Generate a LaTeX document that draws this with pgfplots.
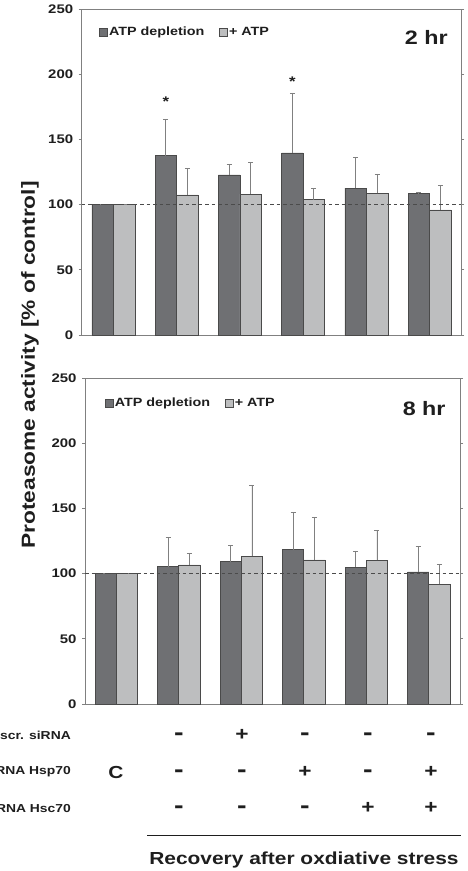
\documentclass[border=0pt]{standalone}
\usepackage{fontspec}
\setmainfont{Liberation Sans}[FakeStretch=1.2]
\usepackage{pgfplots}
\pgfplotsset{compat=1.18}
\definecolor{darkbar}{HTML}{6F7073}
\definecolor{lightbar}{HTML}{BDBEBF}
\definecolor{edgec}{HTML}{4A4A4A}
\definecolor{errc}{HTML}{808080}
\definecolor{txt}{HTML}{1E1E1E}

\pgfplotsset{
  panel/.style={
    scale only axis, height=326bp,
    xmin=-0.5, xmax=5.5, ymin=0, ymax=250,
    ytick={0,50,100,150,200,250}, xtick=\empty,
    axis line style={errc, line width=0.7bp},
    tick align=outside, major tick length=3bp,
    y tick style={errc, line width=0.7bp},
    yticklabel style={font=\fontsize{12.5}{12}\selectfont\bfseries, text=txt, xshift=-2bp},
    /pgf/number format/assume math mode=true,
    ybar, bar width=0.34,
    clip=false,
    legend columns=2,
    legend style={draw=none, fill=none, font=\fontsize{12}{12}\selectfont\bfseries,
      text=txt, anchor=west, inner sep=0pt,
      nodes={inner sep=1.5bp},
      /tikz/every even column/.append style={column sep=13bp}},
    legend image code/.code={\draw[#1] (0bp,-4bp) rectangle (8bp,4bp);},
  },
  darkser/.style={fill=darkbar, draw=edgec, line width=0.6bp, bar shift=-0.17,
    error bars/.cd, y dir=plus, y explicit,
    error bar style={errc, line width=0.7bp},
    error mark options={errc, mark size=2.5bp, line width=0.7bp, rotate=90}},
  lightser/.style={fill=lightbar, draw=edgec, line width=0.6bp, bar shift=0.17,
    error bars/.cd, y dir=plus, y explicit,
    error bar style={errc, line width=0.7bp},
    error mark options={errc, mark size=2.5bp, line width=0.7bp, rotate=90}},
}
\tikzset{
  mn/.style={font=\fontsize{24}{24}\selectfont\bfseries},
  pl/.style={font=\fontsize{19}{19}\selectfont\bfseries},
}

\begin{document}
\begin{tikzpicture}[x=1bp,y=1bp]
\useasboundingbox (0,0) rectangle (468,871);

% ---------- top panel (2 hr) ----------
\begin{axis}[panel, width=379.5bp, at={(81.7bp,536bp)}, anchor=south west,
  legend style={at={(rel axis cs:0.045,0.93)}}]
\addplot[darkser] coordinates {
 (0,100) +- (0,0.3)
 (1,137.5) +- (0,27.6)
 (2,122.7) +- (0,8.4)
 (3,139.6) +- (0,46.0)
 (4,112.7) +- (0,23.8)
 (5,108.4) +- (0,1.3)
};
\addplot[lightser] coordinates {
 (0,100) +- (0,0.3)
 (1,107.4) +- (0,20.4)
 (2,108.1) +- (0,24.3)
 (3,103.8) +- (0,8.4)
 (4,108.6) +- (0,14.9)
 (5,95.9) +- (0,19.1)
};
\legend{ATP depletion, + ATP}
\draw[txt!80, line width=0.6bp, dash pattern=on 3.5bp off 3bp] (axis cs:-0.5,100) -- (axis cs:5.5,100);
\node[font=\fontsize{14}{14}\selectfont\bfseries, text=txt] at (axis cs:0.83,179) {*};
\node[font=\fontsize{14}{14}\selectfont\bfseries, text=txt] at (axis cs:2.83,194) {*};
\node[font=\fontsize{19.5}{20}\selectfont\bfseries, text=txt, anchor=east, inner sep=0pt] at (rel axis cs:0.965,0.912) {2 hr};
\end{axis}

% ---------- bottom panel (8 hr) ----------
\begin{axis}[panel, width=375bp, at={(85bp,167bp)}, anchor=south west,
  legend style={at={(rel axis cs:0.052,0.923)}}]
\addplot[darkser] coordinates {
 (0,100) +- (0,0.3)
 (1,105.4) +- (0,22.2)
 (2,109.2) +- (0,12.3)
 (3,118.4) +- (0,28.4)
 (4,104.9) +- (0,12.5)
 (5,101.3) +- (0,19.7)
};
\addplot[lightser] coordinates {
 (0,100) +- (0,0.3)
 (1,106.6) +- (0,9.3)
 (2,113.3) +- (0,54.7)
 (3,110.5) +- (0,33.0)
 (4,110.2) +- (0,23.0)
 (5,91.8) +- (0,15.4)
};
\legend{ATP depletion, + ATP}
\draw[txt!80, line width=0.6bp, dash pattern=on 3.5bp off 3bp] (axis cs:-0.5,100) -- (axis cs:5.5,100);
\node[font=\fontsize{19.5}{20}\selectfont\bfseries, text=txt, anchor=east, inner sep=0pt] at (rel axis cs:0.962,0.905) {8 hr};
\end{axis}

% ---------- y label ----------
\node[rotate=90, font=\fontsize{19}{19}\selectfont\bfseries, text=txt] at (30,506) {Proteasome activity [\% of control]};

% ---------- condition table ----------
\begin{scope}[every node/.style={text=txt, inner sep=0pt}]
\node[anchor=east, font=\fontsize{11.6}{12}\selectfont\bfseries] at (71,136) {scr. siRNA};
\node[anchor=east, font=\fontsize{11.6}{12}\selectfont\bfseries] at (71,99) {siRNA Hsp70};
\node[anchor=east, font=\fontsize{11.6}{12}\selectfont\bfseries] at (71,63) {siRNA Hsc70};
\node[font=\fontsize{17.5}{17}\selectfont\bfseries] at (116,99) {C};
% row 1: scr siRNA
\node[mn] at (179,134) {-};
\node[pl] at (242,136) {+};
\node[mn] at (305,134) {-};
\node[mn] at (368,134) {-};
\node[mn] at (431,134) {-};
% row 2: Hsp70
\node[mn] at (179,97) {-};
\node[mn] at (242,97) {-};
\node[pl] at (305,99) {+};
\node[mn] at (368,97) {-};
\node[pl] at (431,99) {+};
% row 3: Hsc70
\node[mn] at (179,61) {-};
\node[mn] at (242,61) {-};
\node[mn] at (305,61) {-};
\node[pl] at (368,63) {+};
\node[pl] at (431,63) {+};
\end{scope}
\draw[txt, line width=0.8bp] (147,36) -- (461,36);
\node[font=\fontsize{17.5}{18}\selectfont\bfseries, text=txt] at (304,11) {Recovery after oxdiative stress};
\end{tikzpicture}
\end{document}
